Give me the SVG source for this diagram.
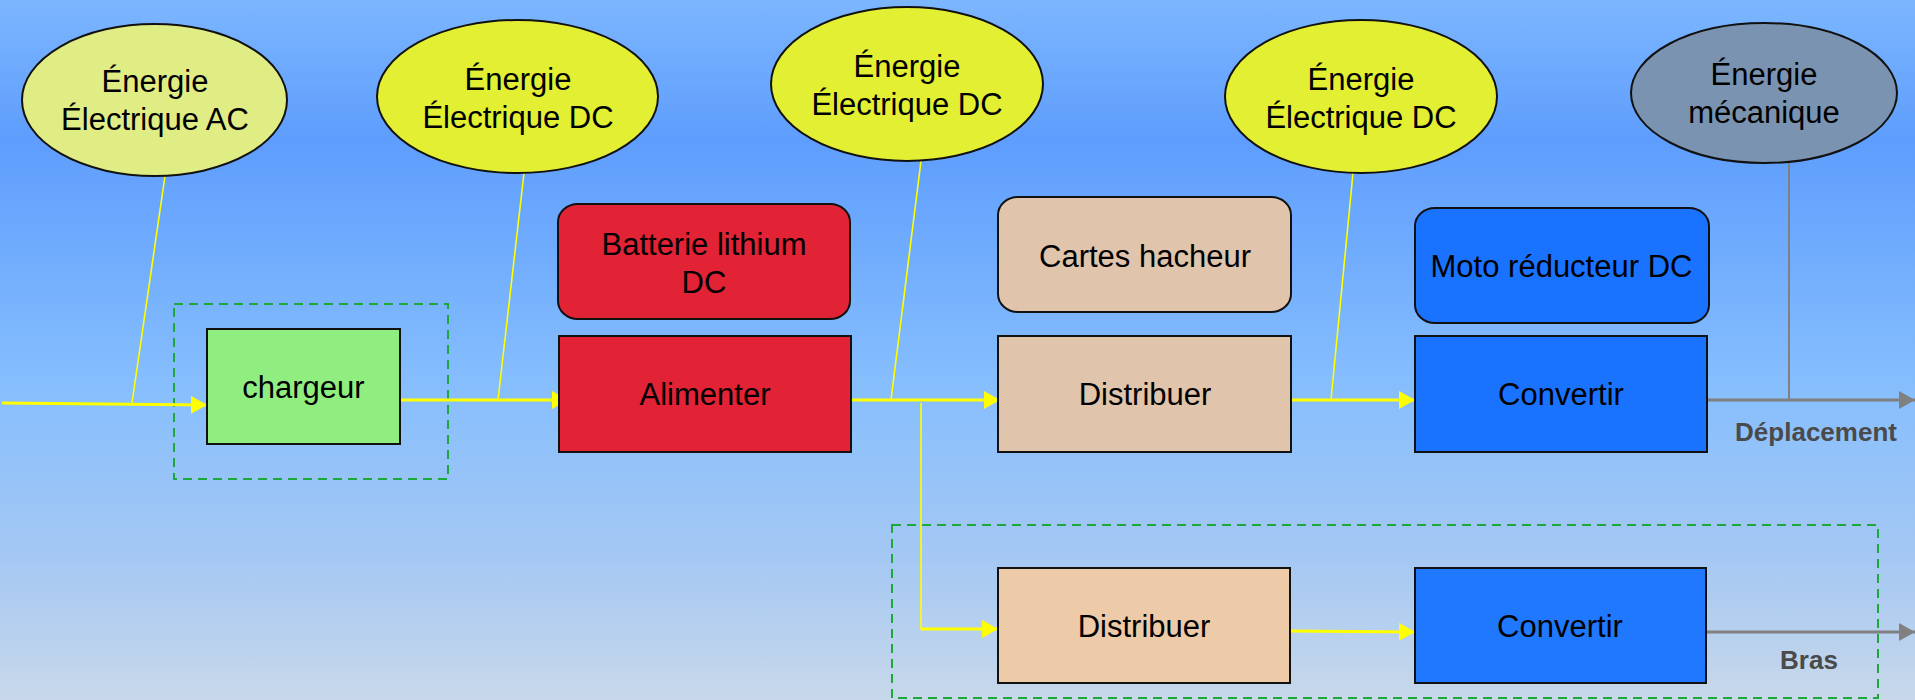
<svg xmlns="http://www.w3.org/2000/svg" width="1915" height="700" viewBox="0 0 1915 700">
<defs>
<linearGradient id="bg" x1="0" y1="0" x2="0" y2="1">
<stop offset="0" stop-color="#7cb6fe"/>
<stop offset="0.2" stop-color="#5e9dfd"/>
<stop offset="0.55" stop-color="#86befd"/>
<stop offset="0.8" stop-color="#a5c8f3"/>
<stop offset="1" stop-color="#c8d8ea"/>
</linearGradient>
<marker id="ay" markerUnits="userSpaceOnUse" markerWidth="16" markerHeight="18" refX="16" refY="9" orient="auto"><path d="M0,0 L16,9 L0,18 z" fill="#ffff00"/></marker>
<marker id="ag" markerUnits="userSpaceOnUse" markerWidth="16" markerHeight="18" refX="16" refY="9" orient="auto"><path d="M0,0 L16,9 L0,18 z" fill="#808080"/></marker>
<style>
.n{stroke:#111;stroke-width:2}
.t{font-family:"Liberation Sans",Arial,sans-serif;font-size:31px;fill:#000;text-anchor:middle}
.lb{font-family:"Liberation Sans",Arial,sans-serif;font-size:26px;font-weight:bold;fill:#4a4a4a;text-anchor:middle}
.dash{fill:none;stroke:#1fa83a;stroke-width:2;stroke-dasharray:9,6}
.y{stroke:#ffff00;stroke-width:3;fill:none}
.yt{stroke:#ffff00;stroke-width:1.6;fill:none}
.g{stroke:#808080;stroke-width:3;fill:none}
.gt{stroke:#808080;stroke-width:2;fill:none}
</style>
</defs>
<rect x="0" y="0" width="1915" height="700" fill="url(#bg)"/>

<rect class="dash" x="174" y="304" width="274" height="175"/>
<rect class="dash" x="892" y="525" width="986" height="173"/>

<g id="connectors">
<line class="yt" x1="165" y1="176" x2="132" y2="403"/>
<line class="yt" x1="524" y1="173" x2="498" y2="400"/>
<line class="yt" x1="921" y1="161" x2="891" y2="400"/>
<line class="yt" x1="1353" y1="173" x2="1331" y2="400"/>
<line class="gt" x1="1789" y1="163" x2="1789" y2="400"/>
<line class="y" x1="2" y1="403" x2="207" y2="405" marker-end="url(#ay)"/>
<line class="y" x1="400" y1="400" x2="568" y2="400" marker-end="url(#ay)"/>
<line class="y" x1="851" y1="400" x2="1000" y2="400" marker-end="url(#ay)"/>
<polyline class="yt" points="921,403 921,629 940,629"/>
<line class="y" x1="921" y1="629" x2="998" y2="629" marker-end="url(#ay)"/>
<line class="y" x1="1291" y1="400" x2="1415" y2="400" marker-end="url(#ay)"/>
<line class="y" x1="1290" y1="631" x2="1415" y2="632" marker-end="url(#ay)"/>
<line class="g" x1="1707" y1="400" x2="1915" y2="400" marker-end="url(#ag)"/>
<line class="g" x1="1706" y1="632" x2="1915" y2="632" marker-end="url(#ag)"/>
</g>

<g id="e-ac"><ellipse class="n" cx="154.5" cy="100" rx="132.5" ry="76" fill="#e0ec84"/><text class="t" x="155" y="92">Énergie</text><text class="t" x="155" y="130">Électrique AC</text></g>
<g id="e-dc1"><ellipse class="n" cx="517.5" cy="96.5" rx="140.5" ry="76.5" fill="#e2ef33"/><text class="t" x="518" y="90">Énergie</text><text class="t" x="518" y="128">Électrique DC</text></g>
<g id="e-dc2"><ellipse class="n" cx="907" cy="84" rx="136" ry="77" fill="#e2ef33"/><text class="t" x="907" y="77">Énergie</text><text class="t" x="907" y="115">Électrique DC</text></g>
<g id="e-dc3"><ellipse class="n" cx="1361" cy="96.5" rx="136" ry="76.5" fill="#e2ef33"/><text class="t" x="1361" y="90">Énergie</text><text class="t" x="1361" y="128">Électrique DC</text></g>
<g id="e-meca"><ellipse class="n" cx="1764" cy="93" rx="133" ry="70" fill="#7a93b0"/><text class="t" x="1764" y="85">Énergie</text><text class="t" x="1764" y="123">mécanique</text></g>

<g id="chargeur"><rect class="n" x="207" y="329" width="193" height="115" fill="#90ee80"/><text class="t" x="303.5" y="398">chargeur</text></g>
<g id="batterie"><rect class="n" x="558" y="204" width="292" height="115" rx="20" ry="18" fill="#e22235"/><text class="t" x="704" y="255">Batterie lithium</text><text class="t" x="704" y="293">DC</text></g>
<g id="alimenter"><rect class="n" x="559" y="336" width="292" height="116" fill="#e22235"/><text class="t" x="705" y="405">Alimenter</text></g>
<g id="hacheur"><rect class="n" x="998" y="197" width="293" height="115" rx="20" ry="18" fill="#e0c4ac"/><text class="t" x="1145" y="267">Cartes hacheur</text></g>
<g id="distribuer1"><rect class="n" x="998" y="336" width="293" height="116" fill="#e0c4ac"/><text class="t" x="1145" y="405">Distribuer</text></g>
<g id="moto"><rect class="n" x="1415" y="208" width="294" height="115" rx="20" ry="18" fill="#1a73ff"/><text class="t" x="1561.5" y="277">Moto réducteur DC</text></g>
<g id="convertir1"><rect class="n" x="1415" y="336" width="292" height="116" fill="#1a73ff"/><text class="t" x="1561" y="405">Convertir</text></g>
<g id="distribuer2"><rect class="n" x="998" y="568" width="292" height="115" fill="#edcaa8"/><text class="t" x="1144" y="637">Distribuer</text></g>
<g id="convertir2"><rect class="n" x="1415" y="568" width="291" height="115" fill="#2078ff"/><text class="t" x="1560" y="637">Convertir</text></g>

<text class="lb" x="1816" y="441">Déplacement</text>
<text class="lb" x="1809" y="669">Bras</text>
</svg>
